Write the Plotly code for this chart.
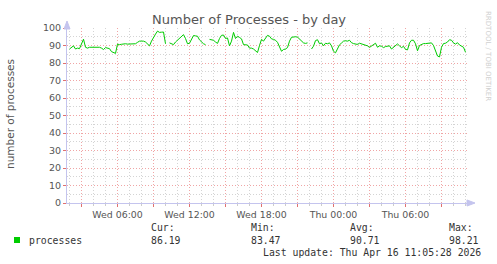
import pandas as pd
import plotly.graph_objects as go

# ---- data (10-minute samples, Wed 2026-04-15 02:00 -> Thu 2026-04-16 11:00) ----
start_time = "2026-04-15 02:00"
step = "10min"
processes = [
    # Wed 02:00-03:50
    88, 88.7, 89.8, 88, 88.5, 88.2, 91, 93.6, 89, 88.5, 89, 89,
    # 04:00-05:50
    88.8, 88.8, 89, 89, 88.5, 87.7, 88.8, 88.5, 88.2, 86.5, 86, 85.5,
    # 06:00-07:50
    90.8, 90.5, 90.7, 91, 91, 90.8, 90.8, 91, 91, 91, 91.8, 92.5,
    # 08:00-09:50
    92.5, 92.5, 92, 91, 89.8, 92.5, 95, 96.5, 98.21, 97.5, 97.6, 97.7,
    # 10:00-11:50
    91, None, 91.5, 91, 90.5, 92, 93, 94.5, 95, 96.2, 94, 91,
    # 12:00-13:50
    91.3, 93.5, 95.7, 95.5, 95.3, 93.2, 91.8, 91, 90.5, None, 93.5, 93.3,
    # 14:00-15:50
    93, 92, 91.2, 94, 95.8, 96, 94, 94.3, 89.8, 92.5, 97.5, 94,
    # 16:00-17:50
    95.3, 94.6, 93.8, 90.5, 90.5, 90.3, 88.5, 88.5, 88, 86.7, 86, 90,
    # 18:00-19:50
    93.5, 92.5, 94.5, 95.8, 95.3, 93.8, 93.5, 93, 91.8, 89, 86.7, 87.7,
    # 20:00-21:50
    88, 88.8, 92.5, 94.7, 95, 95, 94.8, 93.7, 92.6, 91.5, 91.2, 91.5,
    # 22:00-23:50
    None, 88, 89.6, 92.8, 93.3, 91, 91.5, 89.8, 91.3, 91, 91.5, 89.8,
    # Thu 00:00-01:50
    86.7, 85.8, 88.5, 90.4, 91.4, 92.5, 92.7, 92.5, 93, 91.6, 91.1, 90.8,
    # 02:00-03:50
    90.6, 91.3, 91, 90.6, 90.2, 89.8, 88.9, 89.6, 90.6, 91.3, 89, 89.8,
    # 04:00-05:50
    89.6, 88.8, 89.4, 89.5, 89.8, 88, 88.8, 89.8, 90.9, 89.8, 88.8, 89.5,
    # 06:00-07:50
    87.8, 87.5, 91.5, 93, 93, 91, 87, 90, 90.8, 91.1, 91.1, 91.1,
    # 08:00-09:50
    91.1, 91.5, 90, 87.5, 84, 83.47, 89, 91.1, 91.3, 92, 93.3, 93,
    # 10:00-11:00
    91.5, 90.8, 91.6, 90.3, 89.6, 89, 86.19,
]
times = pd.date_range(start_time, periods=len(processes), freq=step)

x_range = ["2026-04-15 01:47:30", "2026-04-16 11:07:30"]
y_range = [0, 100]
tick_times = pd.date_range("2026-04-15 03:00", "2026-04-16 09:00", freq="3h")
tick_labels = ["", "Wed 06:00", "", "Wed 12:00", "", "Wed 18:00", "",
               "Thu 00:00", "", "Thu 06:00", ""]

legend_name = "processes"
stat_names = ["Cur:", "Min:", "Avg:", "Max:"]
stat_values = ["86.19", "83.47", "90.71", "98.21"]
last_update = "Last update: Thu Apr 16 11:05:28 2026"

# ---- figure ----
LINE_GREEN = "#00cc00"
MAJOR = "rgb(240,165,165)"
MINOR = "rgb(212,212,212)"
AXIS = "#c4c4ee"
TXT = "#555555"
DOTS = "1px,2px"

fig = go.Figure()
fig.add_trace(go.Scatter(x=times, y=processes, mode="lines",
                         line=dict(color=LINE_GREEN, width=1),
                         connectgaps=False, showlegend=False, hoverinfo="skip"))

L, R, T, B = 67, 30, 28, 61
W, H = 497, 264
PW, PH = W - L - R, H - T - B


def px(xp):
    return (xp - L) / PW


def py(yp):
    return (H - B - yp) / PH


fig.update_layout(
    width=W, height=H,
    margin=dict(l=L, r=R, t=T, b=B, pad=0),
    paper_bgcolor="white", plot_bgcolor="white",
    font=dict(family="DejaVu Sans", size=9.5, color=TXT),
    showlegend=False,
)

fig.update_xaxes(
    type="date", range=x_range,
    tickmode="array", tickvals=tick_times, ticktext=tick_labels,
    showgrid=True, gridcolor=MAJOR, griddash=DOTS, gridwidth=1,
    ticks="outside", ticklen=3, tickcolor="#e07070", tickwidth=1,
    showline=True, linecolor=AXIS, linewidth=1,
    tickfont=dict(family="DejaVu Sans", size=9.4, color=TXT),
    minor=dict(dtick=3600000, tick0="2026-04-15 00:00", showgrid=True,
               gridcolor=MINOR, griddash=DOTS, gridwidth=1,
               ticks="outside", ticklen=2, tickcolor="#cccccc"),
    zeroline=False, fixedrange=True,
)
fig.update_yaxes(
    range=y_range, dtick=10, tick0=0,
    showgrid=True, gridcolor=MAJOR, griddash=DOTS, gridwidth=1,
    ticks="outside", ticklen=3, tickcolor="#e07070",
    showline=True, linecolor=AXIS, linewidth=1,
    tickfont=dict(family="DejaVu Sans", size=9.5, color=TXT),
    minor=dict(dtick=5, showgrid=True, gridcolor=MINOR, griddash=DOTS,
               gridwidth=1),
    zeroline=False, fixedrange=True,
)

# axis arrows
fig.add_shape(type="path", xref="paper", yref="paper",
              path=f"M {px(64)} {py(29)} L {px(70)} {py(29)} L {px(67)} {py(21)} Z",
              fillcolor=AXIS, line=dict(color=AXIS, width=1))
fig.add_shape(type="path", xref="paper", yref="paper",
              path=f"M {px(467)} {py(200)} L {px(467)} {py(206)} L {px(475)} {py(203)} Z",
              fillcolor=AXIS, line=dict(color=AXIS, width=1))

# legend square
fig.add_shape(type="rect", xref="paper", yref="paper",
              x0=px(14), x1=px(20), y0=py(243), y1=py(237),
              fillcolor=LINE_GREEN, line=dict(width=0))

ann = []
ann.append(dict(text="Number of Processes - by day", x=px(248.5), y=py(19),
                xanchor="center", yanchor="middle",
                font=dict(family="DejaVu Sans", size=13, color="#555555")))
ann.append(dict(text="number of processes", x=px(10), y=py(114), textangle=-90,
                xanchor="center", yanchor="middle",
                font=dict(family="DejaVu Sans", size=10.5, color="#555555")))
ann.append(dict(text="RRDTOOL / TOBI OETIKER", x=px(488), y=py(56), textangle=90,
                xanchor="center", yanchor="middle",
                font=dict(family="DejaVu Sans", size=7, color="#d0d0d0")))
MONO = dict(family="DejaVu Sans Mono", size=9.8, color="#333333")
ann.append(dict(text=legend_name, x=px(26.5), y=py(240), xanchor="left",
                yanchor="middle", font=MONO))
stat_x = [149.3, 249.3, 348.3, 447.3]
for name, val, sx in zip(stat_names, stat_values, stat_x):
    ann.append(dict(text=name, x=px(sx), y=py(227.5), xanchor="left",
                    yanchor="middle", font=MONO))
    ann.append(dict(text=val, x=px(sx), y=py(240), xanchor="left",
                    yanchor="middle", font=MONO))
ann.append(dict(text=last_update, x=px(483), y=py(252), xanchor="right",
                yanchor="middle", font=MONO))
for a in ann:
    a.update(xref="paper", yref="paper", showarrow=False)
fig.update_layout(annotations=ann)

fig.write_html("out.html", config={"displayModeBar": False})
